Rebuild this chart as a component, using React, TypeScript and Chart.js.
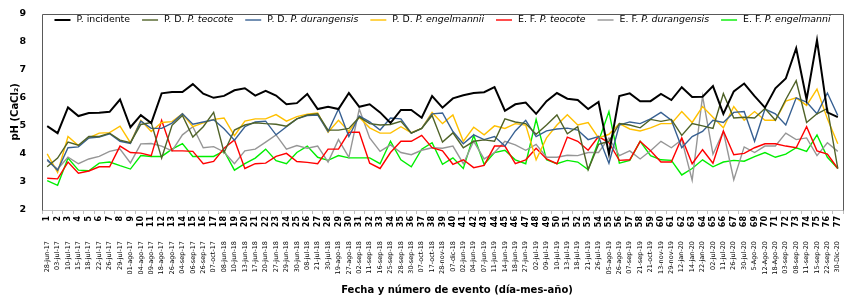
import React, { useEffect, useRef } from 'react';
import { Chart, registerables } from 'chart.js';

Chart.register(...registerables);

// Event numbers (x axis, first level)
const eventNumbers = [
  '1', '2', '3', '4', '5', '6', '7', '8', '9', '10', '11', '12', '13', '14', '15', '16', '17', '18', '19', '20',
  '21', '22', '23', '24', '25', '26', '27', '28', '29', '30', '31', '32', '33', '34', '35', '36', '37', '38', '39', '40',
  '41', '42', '43', '44', '45', '46', '47', '48', '49', '50', '51', '52', '53', '54', '55', '56', '57', '58', '59', '60',
  '61', '62', '63', '64', '65', '66', '67', '68', '69', '70', '71', '72', '73', '74', '75', '76', '77',
];

// Event dates (x axis, second level)
const eventDates = [
  '28-jun-17', '03-jul-17', '10-jul-17', '15-jul-17', '18-jul-17', '22-jul-17', '26-jul-17', '29-jul-17', '01-ago-17', '04-ago-17',
  '09-ago-17', '18-ago-17', '26-ago-17', '04-sep-17', '06-sep-17', '26-sep-17', '07-oct-17', '08-jun-18', '10-jun-18', '13-jun-18',
  '17-jun-18', '20-jun-18', '27-jun-18', '29-jun-18', '30-jun-18', '08-jul-18', '21-jul-18', '30-jul-18', '19-ago-18', '27-ago-18',
  '02-sep-18', '11-sep-18', '16-sep-18', '25-sep-18', '28-sep-18', '30-sep-18', '07-oct-18', '17-oct-18', '28-nov-18', '07-dic-18',
  '02-jun-19', '04-jun-19', '07-jun-19', '11-jun-19', '14-jun-19', '18-jun-19', '27-jun-19', '02-jul-19', '09-jul-19', '10-jul-19',
  '13-jul-19', '18-jul-19', '21-jul-19', '26-jul-19', '05-ago-19', '26-ago-19', '07-sep-19', '21-sep-19', '21-oct-19', '13-nov-19',
  '29-nov-19', '12-jan-20', '14-jan-20', '22-jan-20', '02-jul-20', '11-jul-20', '26-jul-20', '30-jul-20', '5-Ago-20', '12-Ago-20',
  '18-Ago-20', '03-sep-20', '08-sep-20', '11-sep-20', '15-sep-20', '22-sep-20', '30-Dic-20',
];

const yTicks = [2, 3, 4, 5, 6, 7, 8, 9];

const pIncidente = [
  4.99, 4.74, 5.66, 5.35, 5.46, 5.47, 5.5, 5.94, 4.95, 5.38,
  5.1, 6.16, 6.21, 6.21, 6.49, 6.15, 6.0, 6.07, 6.27, 6.34,
  6.08, 6.25, 6.08, 5.77, 5.81, 6.14, 5.6, 5.68, 5.6, 6.17,
  5.68, 5.77, 5.48, 5.1, 5.57, 5.57, 5.29, 6.06, 5.65, 5.98,
  6.09, 6.17, 6.2, 6.38, 5.54, 5.77, 5.83, 5.43, 5.88, 6.17,
  5.97, 5.92, 5.6, 5.85, 4.0, 6.06, 6.16, 5.88, 5.88, 6.14,
  5.92, 6.38, 6.03, 6.04, 6.42, 5.43, 6.23, 6.51, 6.06, 5.65,
  6.34, 6.69, 7.77, 5.94, 8.06, 5.48, 5.31,
];

const pdTeocote = [
  3.54, 3.85, 4.42, 4.31, 4.62, 4.62, 4.74, 4.49, 4.4, 5.05,
  5.12, 3.85, 5.02, 5.37, 4.6, 4.97, 5.48, 4.05, 4.85, 5.03,
  5.11, 5.08, 5.06, 4.99, 5.25, 5.39, 5.43, 4.85, 4.85, 4.91,
  5.31, 5.08, 5.03, 5.05, 5.16, 4.74, 4.91, 5.37, 4.42, 4.75,
  4.22, 4.45, 4.5, 4.45, 5.25, 5.14, 5.08, 4.7, 5.03, 5.39,
  4.72, 4.97, 3.44, 4.34, 4.45, 5.08, 5.03, 4.93, 5.23, 5.16,
  5.23, 4.66, 5.08, 5.0, 4.91, 6.15, 5.28, 5.31, 5.28, 5.62,
  5.2, 5.94, 6.61, 5.12, 5.43, 5.62, 3.48,
];

const pdDurangensis = [
  3.8, 3.42, 4.22, 4.25, 4.57, 4.6, 4.72, 4.45, 4.37, 5.17,
  4.91, 4.91, 5.1, 5.43, 5.06, 5.14, 5.22, 4.9, 4.49, 4.97,
  5.14, 5.17, 4.68, 4.97, 5.25, 5.37, 5.39, 4.8, 5.6, 4.62,
  5.35, 5.14, 4.85, 5.28, 5.25, 4.74, 4.91, 5.43, 5.46, 4.8,
  4.36, 4.68, 4.51, 4.62, 4.28, 4.82, 5.2, 4.62, 4.82, 4.89,
  4.92, 4.85, 4.51, 4.62, 3.67, 5.03, 5.14, 5.08, 5.25, 5.48,
  5.2, 4.22, 4.62, 4.8, 5.2, 5.12, 5.48, 5.51, 4.45, 5.6,
  5.43, 5.03, 6.0, 5.85, 5.43, 6.17, 5.37,
];

const pdEngelmannii = [
  4.0, 3.34, 4.62, 4.3, 4.57, 4.74, 4.76, 4.99, 4.4, 5.2,
  4.8, 5.12, 5.15, 5.43, 4.97, 5.11, 5.23, 5.28, 4.65, 5.17,
  5.25, 5.25, 5.4, 5.17, 5.33, 5.42, 5.46, 4.77, 5.2, 4.8,
  5.31, 4.93, 4.74, 4.74, 4.97, 4.76, 4.91, 5.48, 5.08, 5.39,
  4.45, 4.95, 4.68, 5.0, 4.91, 5.08, 5.03, 3.79, 4.57, 5.03,
  5.4, 5.03, 5.12, 4.57, 4.7, 5.08, 4.89, 4.82, 4.93, 5.08,
  5.08, 5.51, 5.12, 5.69, 5.31, 4.93, 5.69, 5.2, 5.51, 5.2,
  5.2, 5.88, 6.0, 5.73, 6.31, 5.25, 4.36,
];

const efTeocote = [
  3.13, 3.11, 3.71, 3.31, 3.39, 3.54, 3.54, 4.28, 4.05, 4.03,
  3.94, 5.2, 4.11, 4.11, 4.09, 3.65, 3.73, 4.2, 4.5, 3.48,
  3.65, 3.67, 3.91, 4.02, 3.73, 3.7, 3.65, 4.17, 4.17, 4.77,
  4.77, 3.67, 3.48, 4.05, 4.45, 4.45, 4.66, 4.22, 4.11, 3.63,
  3.79, 3.51, 3.59, 4.28, 4.28, 3.65, 3.79, 4.2, 3.82, 3.65,
  4.6, 4.45, 4.13, 4.62, 4.4, 3.77, 3.79, 4.45, 4.11, 3.71,
  3.71, 4.57, 3.65, 4.15, 3.67, 4.82, 3.97, 4.02, 4.22, 4.36,
  4.36, 4.28, 4.22, 4.97, 4.11, 3.99, 3.48,
];

const efDurangensis = [
  3.76, 3.46, 3.88, 3.65, 3.82, 3.91, 4.09, 4.17, 3.68, 4.36,
  4.37, 4.28, 4.11, 4.68, 4.97, 4.22, 4.26, 4.07, 3.65, 4.11,
  4.17, 4.42, 4.68, 4.17, 4.3, 4.2, 4.28, 3.71, 4.51, 3.88,
  5.6, 4.57, 4.09, 4.32, 4.05, 3.97, 4.13, 4.22, 4.2, 4.28,
  3.65, 4.45, 3.82, 4.05, 4.45, 4.32, 4.13, 4.34, 3.88, 3.88,
  3.95, 3.94, 4.05, 4.05, 4.57, 3.94, 4.11, 3.82, 4.11, 4.45,
  4.22, 4.51, 3.06, 6.06, 3.99, 4.8, 3.08, 4.25, 4.05, 4.28,
  4.28, 4.74, 4.51, 4.57, 3.94, 4.4, 4.09,
];

const efEngelmanni = [
  3.05, 2.88, 3.85, 3.42, 3.4, 3.67, 3.71, 3.58, 3.46, 3.94,
  3.91, 3.91, 4.17, 4.37, 3.91, 3.91, 3.91, 4.11, 3.42, 3.65,
  3.85, 4.17, 3.76, 3.65, 4.05, 4.28, 3.88, 3.77, 3.94, 3.86,
  3.86, 3.86, 3.65, 4.45, 3.79, 3.54, 4.17, 4.4, 3.63, 3.86,
  3.48, 4.66, 3.63, 4.05, 4.13, 3.79, 3.65, 5.23, 3.79, 3.65,
  3.77, 3.71, 3.44, 4.45, 5.51, 3.67, 3.77, 4.45, 3.94, 3.79,
  3.77, 3.25, 3.48, 3.79, 3.54, 3.71, 3.77, 3.74, 3.9, 4.05,
  3.88, 3.99, 4.22, 4.09, 4.68, 3.88, 3.48,
];

// Legend text: plain prefix + italic species part
const legendPrefixes = ['P. incidente', 'P. D. ', 'P. D. ', 'P. D. ', 'E. F. ', 'E. F. ', 'E. F. '];
const legendItalics = ['', 'P. teocote', 'P. durangensis', 'P. engelmannii', 'P. teocote', 'P. durangensis', 'P. engelmanni'];

const seriesColors = ['#000000', '#4f6228', '#376092', '#ffc000', '#ff0000', '#969696', '#00ee00'];
const seriesWidths = [2, 1.4, 1.4, 1.4, 1.4, 1.4, 1.4];

const xTitle = 'Fecha y número de evento (día-mes-año)';
const yTitle = 'pH (CaCl₂)';

const FONT = '"DejaVu Sans", Verdana, sans-serif';

const decorPlugin = {
  id: 'decor',
  beforeDatasetsDraw(chart: any) {
    const { ctx, chartArea } = chart;
    const { left, right, top, bottom } = chartArea;
    ctx.save();
    ctx.strokeStyle = '#595959';
    ctx.lineWidth = 1;
    ctx.beginPath();
    ctx.moveTo(Math.round(left) + 0.5, Math.round(bottom) + 0.5);
    ctx.lineTo(Math.round(left) + 0.5, Math.round(top) + 0.5);
    ctx.lineTo(Math.round(right) + 0.5, Math.round(top) + 0.5);
    ctx.lineTo(Math.round(right) + 0.5, Math.round(bottom) + 0.5);
    ctx.stroke();
    ctx.restore();
  },
  afterDraw(chart: any) {
    const { ctx, chartArea } = chart;
    const { left, right, top, bottom } = chartArea;
    ctx.save();
    // axis titles
    ctx.fillStyle = '#000';
    ctx.font = `bold 10px ${FONT}`;
    ctx.textAlign = 'center';
    ctx.textBaseline = 'middle';
    ctx.fillText(xTitle, 457, 290);
    ctx.save();
    ctx.translate(15, (top + bottom) / 2);
    ctx.rotate(-Math.PI / 2);
    ctx.font = `bold 10px ${FONT}`;
    ctx.fillText(yTitle, 0, 0);
    ctx.restore();

    // legend
    const size = 9.4;
    const normal = `${size}px ${FONT}`;
    const ital = `italic ${size}px ${FONT}`;
    const L = 16;
    const g1 = 6;
    const g2 = 12;
    const widths = legendPrefixes.map((p, i) => {
      ctx.font = normal;
      let w = ctx.measureText(p).width;
      ctx.font = ital;
      w += ctx.measureText(legendItalics[i]).width;
      return w;
    });
    const total = widths.reduce((a, b) => a + b, 0) + legendPrefixes.length * (L + g1) + (legendPrefixes.length - 1) * g2;
    let x = (left + right) / 2 - total / 2;
    const y = 20;
    ctx.textAlign = 'left';
    ctx.textBaseline = 'middle';
    legendPrefixes.forEach((p, i) => {
      ctx.strokeStyle = seriesColors[i];
      ctx.lineWidth = seriesWidths[i];
      ctx.beginPath();
      ctx.moveTo(x, y);
      ctx.lineTo(x + L, y);
      ctx.stroke();
      x += L + g1;
      ctx.fillStyle = '#000';
      ctx.font = normal;
      ctx.fillText(p, x, y);
      const pw = ctx.measureText(p).width;
      ctx.font = ital;
      ctx.fillText(legendItalics[i], x + pw, y);
      x += widths[i] + g2;
    });
    ctx.restore();
  },
};

export default function App() {
  const canvasRef = useRef<HTMLCanvasElement | null>(null);

  useEffect(() => {
    document.body.style.margin = '0';
    const canvas = canvasRef.current;
    if (!canvas) return;
    const seriesData = [pIncidente, pdTeocote, pdDurangensis, pdEngelmannii, efTeocote, efDurangensis, efEngelmanni];
    const names = legendPrefixes.map((p, i) => p + legendItalics[i]);
    const chart = new Chart(canvas, {
      type: 'line',
      data: {
        labels: eventNumbers,
        datasets: seriesData.map((d, i) => ({
          label: names[i],
          data: d,
          borderColor: seriesColors[i],
          backgroundColor: seriesColors[i],
          borderWidth: seriesWidths[i],
          pointRadius: 0,
          tension: 0,
          fill: false,
          xAxisID: 'x',
          yAxisID: 'y',
        })),
      },
      options: {
        animation: false,
        responsive: true,
        maintainAspectRatio: false,
        layout: { padding: { top: 6, right: 11, bottom: 27, left: 0 } },
        plugins: { legend: { display: false }, tooltip: { enabled: false } },
        scales: {
          x: {
            type: 'category',
            position: 'bottom',
            weight: 0,
            offset: true,
            grid: { display: true, drawOnChartArea: false, drawTicks: true, tickLength: 4, offset: true, color: '#bfbfbf' },
            border: { display: true, color: '#bfbfbf' },
            ticks: {
              autoSkip: false,
              minRotation: 90,
              maxRotation: 90,
              padding: 2,
              color: '#000',
              font: { family: FONT, size: 8, weight: 'bold' },
            },
            afterFit: (s: any) => { s.height = 23; },
          },
          x2: {
            type: 'category',
            position: 'bottom',
            weight: 1,
            labels: eventDates,
            offset: true,
            grid: { display: false },
            border: { display: false },
            ticks: {
              autoSkip: false,
              minRotation: 90,
              maxRotation: 90,
              padding: 0,
              color: '#000',
              font: { family: FONT, size: 6.5 },
            },
            afterFit: (s: any) => { s.height = 43; },
          },
          y: {
            type: 'linear',
            min: yTicks[0],
            max: yTicks[yTicks.length - 1],
            grid: { display: false },
            border: { display: false },
            afterBuildTicks: (s: any) => { s.ticks = yTicks.map((v) => ({ value: v })); },
            ticks: {
              padding: 8,
              color: '#000',
              font: { family: FONT, size: 9.5, weight: 'bold' },
            },
            afterFit: (s: any) => { s.width = 42; },
          },
        },
      },
      plugins: [decorPlugin],
    });
    return () => chart.destroy();
  }, []);

  return (
    <div style={{ width: 854, height: 303, position: 'relative', background: '#fff' }}>
      <canvas ref={canvasRef} />
    </div>
  );
}
